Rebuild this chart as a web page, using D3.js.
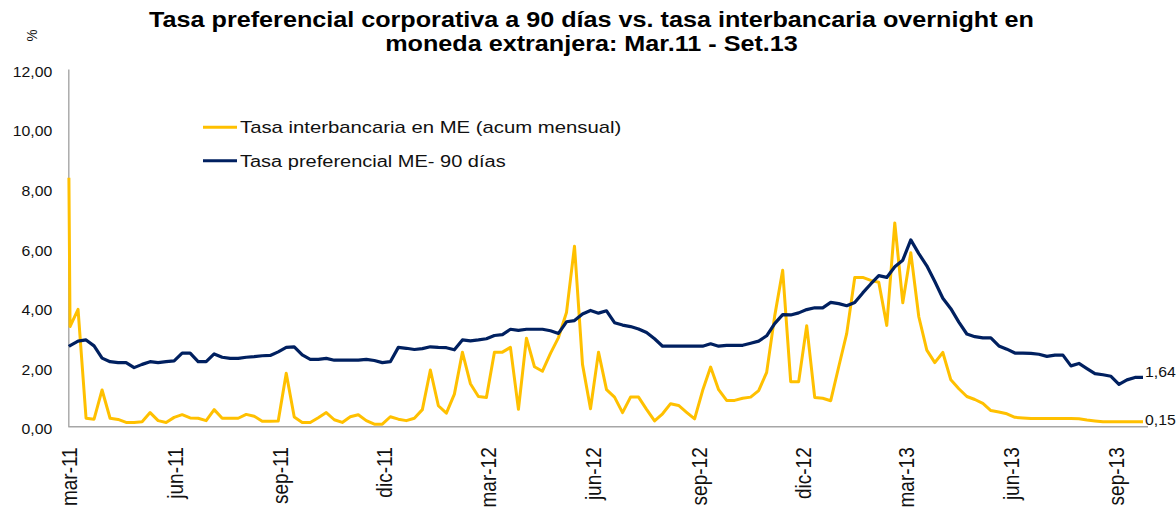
<!DOCTYPE html>
<html>
<head>
<meta charset="utf-8">
<script src="https://cdn.jsdelivr.net/npm/d3@7"></script>
<style>
  html, body { margin: 0; padding: 0; background: #fff; }
  svg { display: block; font-family: "Liberation Sans", Arial, sans-serif; }
</style>
</head>
<body>
<svg id="chart" width="1176" height="509"></svg>
<script>
// ---------------- DATA ----------------
const titleLines = [
  "Tasa preferencial corporativa a 90 días vs. tasa interbancaria overnight en",
  "moneda extranjera: Mar.11 - Set.13"
];
const seriesNames = ["Tasa interbancaria en ME (acum mensual)", "Tasa preferencial ME- 90 días"];

// weekly observations (first one is an initial reading the day before the first week)
const initialDate = "2011-02-26";
const firstWeek = "2011-02-27";
const nWeeks = 135;

const interbancaria = [8.35,
  3.35,3.93,0.27,0.24,1.22,0.27,0.23,0.13,0.13,0.15,
  0.46,0.19,0.13,0.30,0.39,0.28,0.27,0.19,0.56,0.27,
  0.27,0.27,0.40,0.34,0.17,0.17,0.18,1.78,0.31,0.13,
  0.13,0.29,0.46,0.22,0.13,0.32,0.39,0.19,0.07,0.07,
  0.32,0.24,0.19,0.27,0.56,1.89,0.69,0.44,1.08,2.49,
  1.43,1.00,0.97,2.49,2.49,2.65,0.57,2.96,2.00,1.85,
  2.45,2.98,3.82,6.05,2.08,0.59,2.49,1.23,0.98,0.46,
  0.98,0.98,0.57,0.18,0.42,0.76,0.70,0.47,0.25,1.20,
  1.99,1.23,0.87,0.87,0.94,0.98,1.20,1.81,3.70,5.24,
  1.50,1.50,3.38,0.97,0.94,0.86,2.00,3.12,5.00,5.00,
  4.90,4.84,3.39,6.83,4.15,5.83,3.68,2.56,2.14,2.48,
  1.56,1.26,1.00,0.90,0.77,0.53,0.48,0.42,0.30,0.28,
  0.26,0.26,0.26,0.26,0.26,0.26,0.25,0.21,0.18,0.15,
  0.15,0.15,0.15,0.15,0.15];

const preferencial = [2.68,
  2.71,2.86,2.90,2.70,2.29,2.17,2.14,2.14,1.97,2.08,
  2.17,2.14,2.17,2.20,2.46,2.46,2.17,2.17,2.43,2.32,
  2.28,2.28,2.32,2.34,2.37,2.38,2.50,2.65,2.67,2.40,
  2.25,2.25,2.28,2.22,2.22,2.22,2.22,2.25,2.21,2.14,
  2.17,2.65,2.62,2.58,2.61,2.67,2.65,2.64,2.57,2.90,
  2.87,2.90,2.94,3.05,3.08,3.26,3.22,3.26,3.26,3.26,
  3.21,3.12,3.51,3.55,3.77,3.89,3.80,3.88,3.48,3.40,
  3.35,3.27,3.15,2.94,2.69,2.69,2.69,2.69,2.69,2.69,
  2.77,2.69,2.72,2.72,2.72,2.79,2.86,3.04,3.45,3.75,
  3.74,3.81,3.92,3.98,3.98,4.16,4.12,4.05,4.16,4.48,
  4.78,5.06,5.00,5.36,5.58,6.26,5.80,5.39,4.86,4.30,
  3.95,3.50,3.10,3.01,2.97,2.97,2.70,2.59,2.46,2.46,
  2.45,2.42,2.35,2.39,2.39,2.03,2.11,1.94,1.77,1.73,
  1.68,1.41,1.56,1.64,1.64];

const tickDates = ["2011-03-01","2011-06-01","2011-09-01","2011-12-01","2012-03-01","2012-06-01",
                   "2012-09-01","2012-12-01","2013-03-01","2013-06-01","2013-09-01"];
const tickLabels = ["mar-11","jun-11","sep-11","dic-11","mar-12","jun-12",
                    "sep-12","dic-12","mar-13","jun-13","sep-13"];
const yTicks = [0, 2, 4, 6, 8, 10, 12];

// ---------------- LAYOUT ----------------
const parse = d3.utcParse("%Y-%m-%d");
const dates = [parse(initialDate)].concat(
  d3.range(nWeeks).map(i => d3.utcDay.offset(parse(firstWeek), 7 * i)));

const plot = { left: 68.3, right: 1148, top: 69, bottom: 426.3 };
const colors = { inter: "#FFC000", pref: "#002060", axis: "#A6A6A6", text: "#111" };

const svg = d3.select("#chart");
const x = d3.scaleUtc().domain(d3.extent(dates)).range([68.9, 1143]);
const y = d3.scaleLinear().domain([0, 12]).range([plot.bottom, plot.top]);
const fmt = v => d3.format(".2f")(v).replace(".", ",");

// ---------------- TITLE ----------------
const title = svg.append("g");
titleLines.forEach((t, i) => {
  title.append("text")
    .attr("transform", `translate(591.5,${27 + i * 24}) scale(1.145,1)`)
    .attr("text-anchor", "middle")
    .attr("font-size", 22).attr("font-weight", "bold").attr("fill", "#000")
    .text(t);
});

// "%" unit label
svg.append("text")
  .attr("transform", "translate(31.5,35.5) scale(1.14,1) rotate(-90)")
  .attr("text-anchor", "middle").attr("dy", "0.35em")
  .attr("font-size", 13.5).attr("fill", colors.text)
  .text("%");

// ---------------- AXES ----------------
const yAxis = d3.axisLeft(y).tickValues(yTicks).tickSize(0).tickFormat(fmt);
const gy = svg.append("g").attr("transform", `translate(${plot.left},0)`).call(yAxis);
gy.select(".domain").attr("stroke", colors.axis).attr("stroke-width", 1.4);
gy.selectAll(".tick text").remove();
gy.selectAll(".tick").append("text")
  .attr("transform", "translate(-16,2.5) scale(1.13,1)")
  .attr("text-anchor", "end").attr("dy", "0.35em")
  .attr("font-size", 14).attr("fill", colors.text)
  .text(d => fmt(d));

const xAxis = d3.axisBottom(x).tickValues(tickDates.map(parse)).tickSize(0)
  .tickFormat((d, i) => tickLabels[i]);
const gx = svg.append("g").attr("transform", `translate(0,${plot.bottom})`).call(xAxis);
gx.select(".domain").attr("d", `M${plot.left},0.5H${plot.right}`)
  .attr("stroke", colors.axis).attr("stroke-width", 1.4);
gx.selectAll(".tick text").remove();
gx.selectAll(".tick").append("text")
  .attr("transform", "translate(-3,21) scale(1.15,1) rotate(-90)")
  .attr("text-anchor", "end").attr("dy", "0.35em")
  .attr("font-size", 19).attr("fill", colors.text)
  .text((d, i) => tickLabels[i]);

// ---------------- LINES ----------------
const line = d3.line().x((d, i) => x(dates[i])).y(d => y(d));
svg.append("path").datum(interbancaria)
  .attr("d", line).attr("fill", "none")
  .attr("stroke", colors.inter).attr("stroke-width", 3)
  .attr("stroke-linejoin", "round");
svg.append("path").datum(preferencial)
  .attr("d", line).attr("fill", "none")
  .attr("stroke", colors.pref).attr("stroke-width", 3.2)
  .attr("stroke-linejoin", "round");

// end labels
const lastI = dates.length - 1;
svg.append("text")
  .attr("transform", `translate(${x(dates[lastI]) + 2},${y(preferencial[lastI]) - 0.5}) scale(1.13,1)`)
  .attr("font-size", 14).attr("fill", colors.text)
  .text(fmt(preferencial[lastI]));
svg.append("text")
  .attr("transform", `translate(${x(dates[lastI]) + 2},${y(interbancaria[lastI]) + 3.5}) scale(1.13,1)`)
  .attr("font-size", 14).attr("fill", colors.text)
  .text(fmt(interbancaria[lastI]));

// ---------------- LEGEND ----------------
const legend = svg.append("g");
const legendItems = [
  { name: seriesNames[0], color: colors.inter, y: 127.3, sx: 1.27 },
  { name: seriesNames[1], color: colors.pref, y: 160.7, sx: 1.25 }
];
legendItems.forEach(it => {
  legend.append("line")
    .attr("x1", 203).attr("x2", 237).attr("y1", it.y).attr("y2", it.y)
    .attr("stroke", it.color).attr("stroke-width", 3);
  legend.append("text")
    .attr("transform", `translate(240,${it.y + 6}) scale(${it.sx},1)`)
    .attr("font-size", 16).attr("fill", colors.text)
    .text(it.name);
});
</script>
</body>
</html>
